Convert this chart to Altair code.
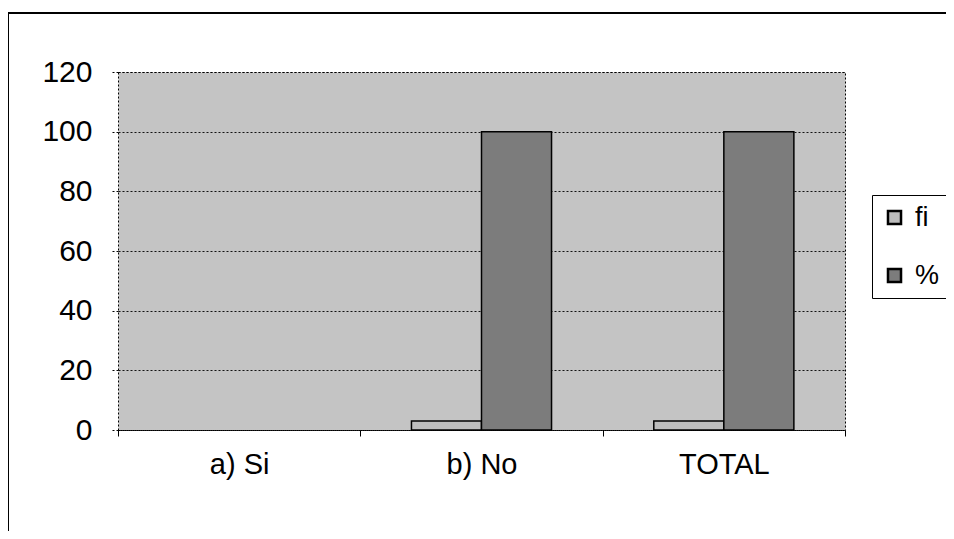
import altair as alt
import pandas as pd

categories = ["a) Si", "b) No", "TOTAL"]
series = ["fi", "%"]
fi_values = [0, 3, 3]
pct_values = [0, 100, 100]

rows = []
for c, f, p in zip(categories, fi_values, pct_values):
    rows.append({"cat": c, "serie": "fi", "value": f})
    rows.append({"cat": c, "serie": "%", "value": p})
df = pd.DataFrame(rows)

FONT = "Liberation Sans"

bars = alt.Chart(df).mark_bar(stroke="black", strokeWidth=1.5).encode(
    x=alt.X("cat:N", sort=categories, title=None,
            scale=alt.Scale(domain=categories, paddingInner=0, paddingOuter=0),
            axis=alt.Axis(labelAngle=0, tickBand="extent", labelFontSize=29,
                          labelPadding=14, tickSize=6, domainColor="black",
                          domainDash=[2, 2], tickColor="black", labelColor="black",
                          labelFont=FONT)),
    xOffset=alt.XOffset("serie:N", sort=series,
                        scale=alt.Scale(domain=series, paddingInner=0, paddingOuter=0.73)),
    y=alt.Y("value:Q", title=None,
            scale=alt.Scale(domain=[0, 120]),
            axis=alt.Axis(values=[0, 20, 40, 60, 80, 100, 120], labelFontSize=30,
                          labelPadding=20, tickSize=6, domain=False,
                          tickColor="black", labelColor="black", labelFont=FONT,
                          grid=True, gridColor="black", gridDash=[2, 2],
                          gridOpacity=0.9, tickDash=[2, 2])),
    color=alt.Color("serie:N", sort=series,
                    scale=alt.Scale(domain=series, range=["#bdbdbd", "#7c7c7c"]),
                    legend=alt.Legend(title=None, orient="none", legendX=754, legendY=123,
                                      symbolType="square", symbolSize=170,
                                      symbolStrokeColor="black", symbolStrokeWidth=2.5,
                                      labelFontSize=27, labelFont=FONT, labelColor="black",
                                      strokeColor="black", fillColor="white",
                                      padding=9, rowPadding=30, labelOffset=7)),
).transform_filter("datum.value > 0")

frame = alt.Chart(df).mark_rect(filled=False, stroke="black", strokeWidth=2).encode(
    x=alt.value(-110), x2=alt.value(900), y=alt.value(-59), y2=alt.value(540)
)

chart = alt.layer(frame, bars).properties(
    width=727, height=358,
    background="white",
    autosize=alt.AutoSizeParams(type="none"),
    padding={"left": 110, "top": 64, "right": 101, "bottom": 101},
).configure_view(fill="#c4c4c4", stroke="black", strokeWidth=1, strokeDash=[2, 2])

chart.save("out.html", embed_options={"renderer": "svg", "actions": False})
